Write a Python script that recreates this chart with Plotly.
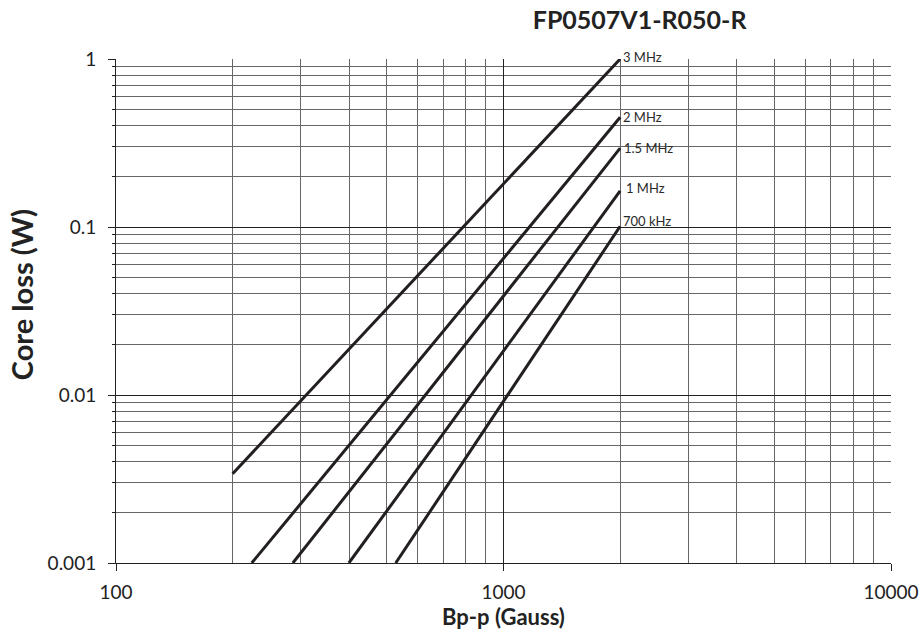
import math
import plotly.graph_objects as go

# Data
series_names = ["3 MHz", "2 MHz", "1.5 MHz", "1 MHz", "700 kHz"]
x_3mhz = [200, 2000]
y_3mhz = [0.0034, 1.0]
x_2mhz = [224, 2000]
y_2mhz = [0.001, 0.45]
x_15mhz = [286, 2000]
y_15mhz = [0.001, 0.295]
x_1mhz = [399, 2000]
y_1mhz = [0.001, 0.164]
x_700khz = [527, 2000]
y_700khz = [0.001, 0.101]

x_ticks = [100, 1000, 10000]
x_ticklabels = ["100", "1000", "10000"]
y_ticks = [0.001, 0.01, 0.1, 1]
y_ticklabels = ["0.001", "0.01", "0.1", "1"]

FONT = "Lato"
LINE = "#231f20"
TXT = "#222222"

fig = go.Figure()
all_x = [x_3mhz, x_2mhz, x_15mhz, x_1mhz, x_700khz]
all_y = [y_3mhz, y_2mhz, y_15mhz, y_1mhz, y_700khz]
label_shift = [2, 0, 0, 3, 5]
label_dx = [1, 1, 2, 4, 1]
for name, xs, ys, sh, dx in zip(series_names, all_x, all_y, label_shift, label_dx):
    fig.add_trace(go.Scatter(x=xs, y=ys, mode="lines", name=name,
                             line=dict(color=LINE, width=3), showlegend=False))
    fig.add_annotation(x=math.log10(xs[-1]), y=math.log10(ys[-1]), xref="x", yref="y",
                       text=name, showarrow=False, xanchor="left", yanchor="middle",
                       xshift=dx, yshift=sh,
                       font=dict(family=FONT, size=13, color="#2a2a2a"))

# y-axis title placed as rotated text (reference sits slightly above plot centre)
fig.add_annotation(text="<b>Core loss (W)</b>", xref="paper", yref="paper",
                   x=-0.1215, y=0.533, xanchor="center", yanchor="middle",
                   textangle=-90, showarrow=False,
                   font=dict(family=FONT, size=29, color=TXT))

fig.update_layout(
    width=923, height=637,
    margin=dict(l=116, r=32, t=59, b=74),
    paper_bgcolor="white", plot_bgcolor="white",
    title=dict(text="<b>FP0507V1-R050-R</b>", x=0.693, xanchor="center",
               y=0.968, yanchor="middle",
               font=dict(family=FONT, size=25, color=TXT)),
    font=dict(family=FONT, color=TXT),
)

fig.update_xaxes(
    type="log", range=[2, 4], automargin=False,
    tickvals=x_ticks, ticktext=x_ticklabels,
    tickfont=dict(size=19, color=TXT),
    ticks="outside", ticklen=7, tickcolor=TXT, ticklabelstandoff=5,
    showgrid=True, gridcolor=TXT, gridwidth=1,
    minor=dict(dtick="D1", showgrid=True, gridcolor="#666666", gridwidth=1, ticks=""),
    showline=True, linecolor=TXT, linewidth=1,
    zeroline=False,
    title=dict(text="<b>Bp-p (Gauss)</b>", font=dict(size=22, color=TXT), standoff=2),
)
fig.update_yaxes(
    type="log", range=[-3, 0], automargin=False,
    tickvals=y_ticks, ticktext=y_ticklabels,
    tickfont=dict(size=19, color=TXT),
    ticks="outside", ticklen=7, tickcolor=TXT, ticklabelstandoff=8,
    showgrid=True, gridcolor=TXT, gridwidth=1,
    minor=dict(dtick="D1", showgrid=True, gridcolor="#666666", gridwidth=1,
               ticks="outside", ticklen=3, tickcolor=TXT),
    showline=True, linecolor=TXT, linewidth=1,
    zeroline=False,
)

fig.write_html("out.html")
